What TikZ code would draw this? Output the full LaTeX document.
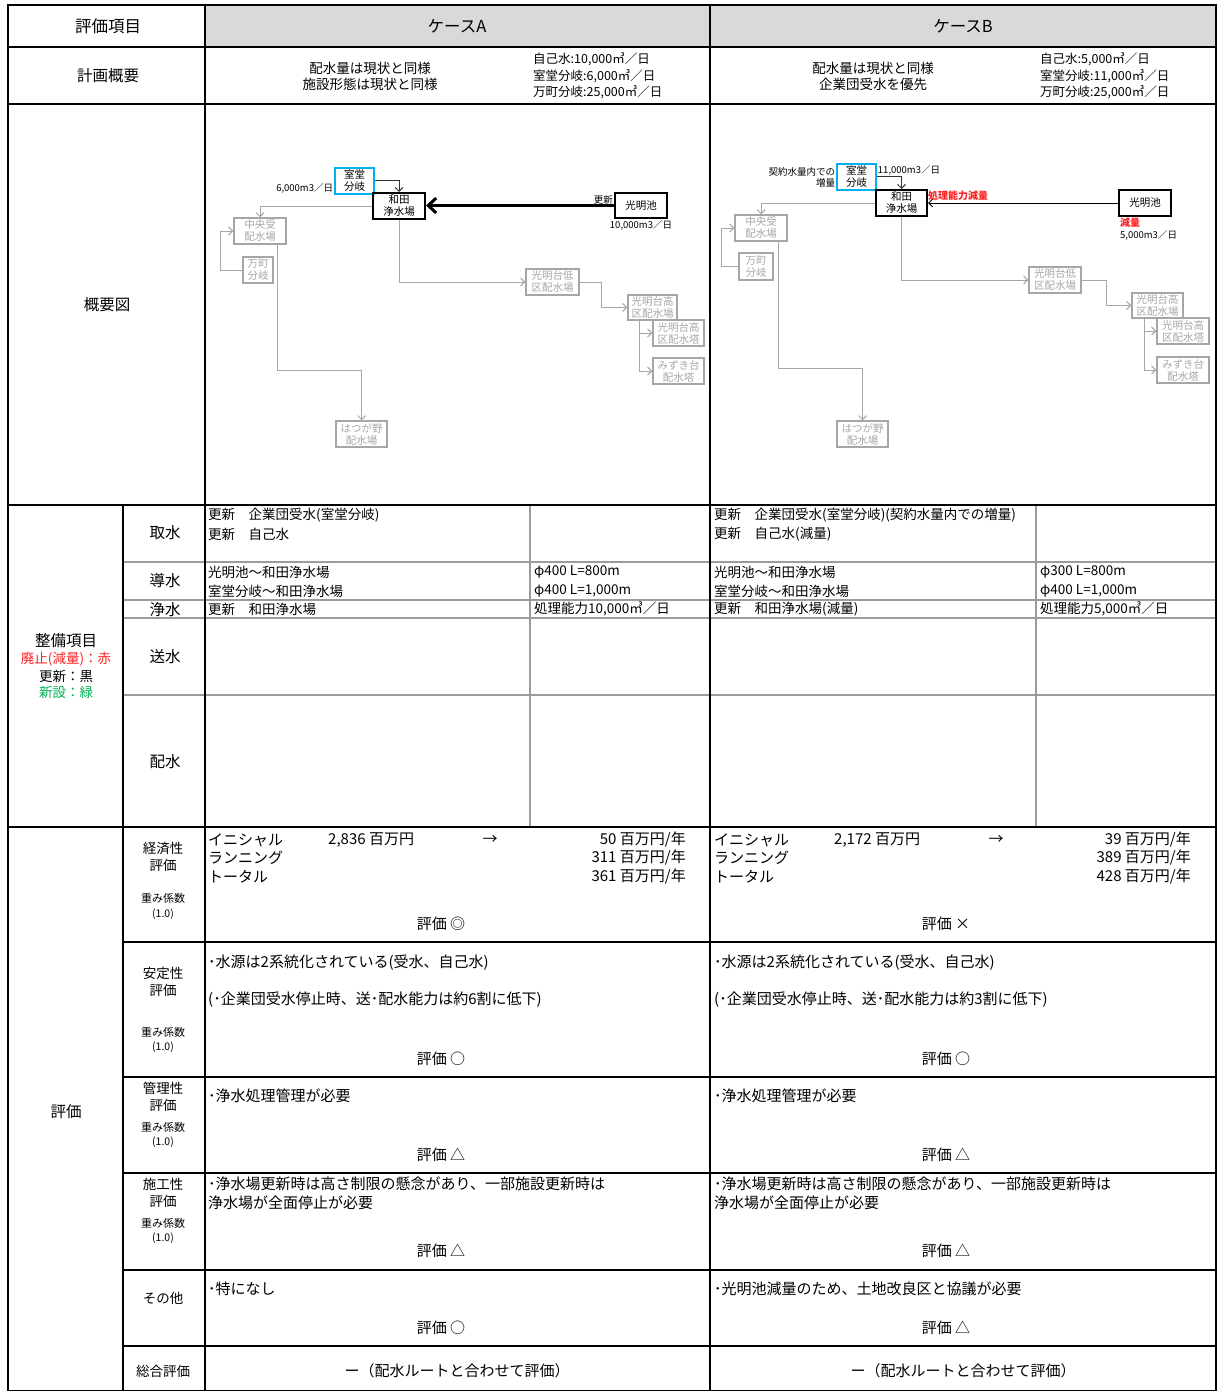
\documentclass[tikz,border=0pt]{standalone}
\usepackage{fontspec}
\setmainfont{Noto Sans CJK JP}
\usepackage{tikz}
\usetikzlibrary{calc,arrows.meta}
\definecolor{hdbg}{HTML}{D9D9D9}
\definecolor{gridg}{HTML}{9C9C9C}
\definecolor{net}{HTML}{A6A6A6}
\definecolor{muro}{HTML}{00B0F0}
\definecolor{alert}{HTML}{FF2020}
\definecolor{newc}{HTML}{00B050}
\tikzset{
  bord/.style={draw=black, line width=1.5pt},
  hsep/.style={draw=black, line width=2.2pt},
  subsep/.style={draw=gridg, line width=2.5pt},
  evsep/.style={draw=black, line width=1.5pt},
  hd/.style={font=\fontsize{16.5}{19}\selectfont},
  lab/.style={font=\fontsize{15.5}{18}\selectfont},
  labs/.style={font=\fontsize{13.5}{17}\selectfont, align=center},
  leg/.style={font=\fontsize{13.5}{16}\selectfont},
  wt/.style={font=\fontsize{11}{13}\selectfont},
  wn/.style={font=\fontsize{10.5}{12}\selectfont},
  plan/.style={font=\fontsize{13.5}{16}\selectfont, align=center},
  vol/.style={anchor=west, inner sep=0pt, font=\fontsize{12.5}{16.5}\selectfont, align=left},
  txt/.style={anchor=west, inner sep=0pt, font=\fontsize{13.5}{16}\selectfont},
  ev/.style={anchor=west, inner sep=0pt, font=\fontsize{15}{17}\selectfont},
  evr/.style={anchor=east, inner sep=0pt, font=\fontsize{15}{17}\selectfont},
  grade/.style={font=\fontsize{15}{17}\selectfont},
  box/.style={draw=black, line width=2pt, inner sep=0pt, align=center, font=\fontsize{10.5}{12}\selectfont},
  mbox/.style={draw=muro, line width=1.5pt, inner sep=0pt, align=center, font=\fontsize{10.5}{12}\selectfont},
  gbox/.style={draw=net, line width=1.5pt, text=net, inner sep=0pt, align=center, font=\fontsize{10.5}{12}\selectfont},
  gline/.style={draw=net, line width=1pt, -{Straight Barb[length=4pt,width=8pt]}},
  bline/.style={draw=black!80, line width=1pt, -{Straight Barb[length=4pt,width=8pt]}},
  sml/.style={font=\fontsize{9.5}{11}\selectfont, inner sep=1pt},
  redsml/.style={text=alert, inner sep=1pt, font=\fontsize{10}{11}\selectfont\bfseries},
}
\begin{document}
\begin{tikzpicture}[x=1pt, y=-1pt]
  \useasboundingbox (0,0) rectangle (1216,1391);
  \fill[hdbg] (205,5) rectangle (1216,47);
  % grid
  \draw[subsep] (530,505) -- (530,827);
  \draw[subsep] (1036,505) -- (1036,827);
  \draw[subsep] (123,562) -- (1216,562);
  \draw[subsep] (123,600) -- (1216,600);
  \draw[subsep] (123,618) -- (1216,618);
  \draw[subsep] (123,695) -- (1216,695);
  \draw[evsep] (123,942) -- (1216,942);
  \draw[evsep] (123,1077) -- (1216,1077);
  \draw[evsep] (123,1173) -- (1216,1173);
  \draw[hsep] (123,1270) -- (1216,1270);
  \draw[evsep] (123,1346) -- (1216,1346);
  \draw[hsep] (8,47) -- (1216,47);
  \draw[hsep] (8,104) -- (1216,104);
  \draw[hsep] (8,505) -- (1216,505);
  \draw[hsep] (8,827) -- (1216,827);
  \draw[hsep] (205,5) -- (205,1391);
  \draw[bord] (710,5) -- (710,1391);
  \draw[bord] (123,505) -- (123,1391);
  \draw[bord] (8,5) rectangle (1216,1391);

  \node[hd] (hitem) at (108,26) {評価項目};
  \node[hd] (hcaseA) at (457,26) {ケースA};
  \node[hd] (hcaseB) at (963,26) {ケースB};

  \node[lab] (hplan) at (108,76) {計画概要};
  \node[plan] (planA) at (370,76) {配水量は現状と同様\\施設形態は現状と同様};
  \node[vol] (volA) at (533,76) {自己水:10,000㎥／日\\室堂分岐:6,000㎥／日\\万町分岐:25,000㎥／日};
  \node[plan] (planB) at (873,76) {配水量は現状と同様\\企業団受水を優先};
  \node[vol] (volB) at (1040,76) {自己水:5,000㎥／日\\室堂分岐:11,000㎥／日\\万町分岐:25,000㎥／日};

  \node[lab] (hmap) at (107,305) {概要図};

  % case A map
  \node[mbox, minimum width=39, minimum height=26] (muroA) at (354.5,181) {室堂\\分岐};
  \node[box, minimum width=52, minimum height=26] (wadaA) at (399,206) {和田\\浄水場};
  \node[box, minimum width=52, minimum height=25] (koA) at (641,205.5) {光明池};
  \node[gbox, minimum width=52, minimum height=26] (chuoA) at (260,231) {中央受\\配水場};
  \node[gbox, minimum width=30, minimum height=26] (manA) at (258,270) {万町\\分岐};
  \node[gbox, minimum width=51, minimum height=26] (hatsuA) at (361.5,434) {はつが野\\配水場};
  \node[gbox, minimum width=53, minimum height=26] (kolA) at (552.5,282) {光明台低\\区配水場};
  \node[gbox, minimum width=49, minimum height=25] (kohA) at (652.5,307.5) {光明台高\\区配水場};
  \node[gbox, minimum width=51, minimum height=26] (towA) at (678.5,333) {光明台高\\区配水塔};
  \node[gbox, minimum width=51, minimum height=26] (mizA) at (678.5,371) {みずき台\\配水塔};
  \draw[bline] (muroA.east) -| (wadaA.north);
  \draw[line width=3pt, -{Straight Barb[length=8pt,width=15pt]}] (koA.west) -- (koA.west -| wadaA.east);
  \draw[gline] (wadaA.west) -| (chuoA.north);
  \draw[gline] (manA.west) -- ++(-22,0) |- (chuoA.west);
  \draw[gline] (277,0 |- chuoA.south) |- (hatsuA.north |- 0,370) -- (hatsuA.north);
  \draw[gline] (wadaA.south) |- (kolA.west);
  \draw[gline] (kolA.east) -- (601,0 |- kolA.east) |- (kohA.west);
  \draw[gline] (639,0 |- kohA.south) |- (towA.west);
  \draw[gline] (639,0 |- kohA.south) |- (mizA.west);
  \node[sml, anchor=east] (qA) at (muroA.west |- 0,188) {6,000m3／日};
  \node[sml, anchor=south east] (updA) at (koA.west) {更新};
  \node[sml, anchor=north] (kqA) at (koA.south) {10,000m3／日};

  % case B map
  \node[mbox, minimum width=39, minimum height=26] (muroB) at (856.5,177) {室堂\\分岐};
  \node[box, minimum width=51, minimum height=26] (wadaB) at (901.5,203) {和田\\浄水場};
  \node[box, minimum width=52, minimum height=26] (koB) at (1145,203) {光明池};
  \node[gbox, minimum width=52, minimum height=26] (chuoB) at (761,228) {中央受\\配水場};
  \node[gbox, minimum width=34, minimum height=27] (manB) at (756,266.5) {万町\\分岐};
  \node[gbox, minimum width=51, minimum height=26] (hatsuB) at (862.5,434) {はつが野\\配水場};
  \node[gbox, minimum width=52, minimum height=26] (kolB) at (1055,280) {光明台低\\区配水場};
  \node[gbox, minimum width=51, minimum height=25] (kohB) at (1157.5,305.5) {光明台高\\区配水場};
  \node[gbox, minimum width=52, minimum height=26] (towB) at (1183,331) {光明台高\\区配水塔};
  \node[gbox, minimum width=52, minimum height=26] (mizB) at (1183,370) {みずき台\\配水塔};
  \draw[bline] (muroB.east) -| (wadaB.north);
  \draw[bline, draw=black] (koB.west) -- (koB.west -| wadaB.east);
  \draw[gline] (wadaB.west) -| (chuoB.north);
  \draw[gline] (manB.west) -- ++(-17,0) |- (chuoB.west);
  \draw[gline] (778,0 |- chuoB.south) |- (hatsuB.north |- 0,368) -- (hatsuB.north);
  \draw[gline] (wadaB.south) |- (kolB.west);
  \draw[gline] (kolB.east) -- (1106,0 |- kolB.east) |- (kohB.west);
  \draw[gline] (1144,0 |- kohB.south) |- (towB.west);
  \draw[gline] (1144,0 |- kohB.south) |- (mizB.west);
  \node[sml, anchor=east, align=right] (zoB) at (muroB.west) {契約水量内での\\増量};
  \node[sml, anchor=south west] (qB) at (muroB.east) {11,000m3／日};
  \node[redsml, anchor=south west] (genB) at (927,202) {処理能力減量};
  \node[redsml, anchor=north west] (gB) at (1119,217) {減量};
  \node[sml, anchor=north west] (kqB) at (1119,229) {5,000m3／日};

  % seibi
  \node[lab] (hseibi) at (66,641) {整備項目};
  \node[leg, text=alert] (legR) at (66,659) {廃止(減量)：赤};
  \node[leg] (legK) at (66,676) {更新：黒};
  \node[leg, text=newc] (legG) at (66,692) {新設：緑};
  \node[lab] (hsyu) at (165,533) {取水};
  \node[lab] (hdou) at (165,581) {導水};
  \node[lab] (hjou) at (165,610) {浄水};
  \node[lab] (hsou) at (165,657) {送水};
  \node[lab] (hhai) at (165,762) {配水};
  \node[txt] (syuA1) at (208,515) {更新　企業団受水(室堂分岐)};
  \node[txt] (syuA2) at (208,534) {更新　自己水};
  \node[txt] (douA1) at (208,572) {光明池～和田浄水場};
  \node[txt] (douA2) at (208,591) {室堂分岐～和田浄水場};
  \node[txt] (douA3) at (534,572) {φ400 L=800m};
  \node[txt] (douA4) at (534,591) {φ400 L=1,000m};
  \node[txt] (jouA1) at (208,609) {更新　和田浄水場};
  \node[txt] (jouA2) at (534,609) {処理能力10,000㎥／日};
  \node[txt] (syuB1) at (714,515) {更新　企業団受水(室堂分岐)(契約水量内での増量)};
  \node[txt] (syuB2) at (714,534) {更新　自己水(減量)};
  \node[txt] (douB1) at (714,572) {光明池～和田浄水場};
  \node[txt] (douB2) at (714,591) {室堂分岐～和田浄水場};
  \node[txt] (douB3) at (1040,572) {φ300 L=800m};
  \node[txt] (douB4) at (1040,591) {φ400 L=1,000m};
  \node[txt] (jouB1) at (714,609) {更新　和田浄水場(減量)};
  \node[txt] (jouB2) at (1040,609) {処理能力5,000㎥／日};

  % hyoka
  \node[lab] (hhyoka) at (66,1112) {評価};
  \node[labs] (hkei) at (163,856.5) {経済性\\評価};
  \node[wt] (hkeiw) at (163,898) {重み係数};
  \node[wn] (hkeic) at (163,914) {(1.0)};
  \node[labs] (hant) at (163,981.5) {安定性\\評価};
  \node[wt] (hantw) at (163,1032) {重み係数};
  \node[wn] (hantc) at (163,1047) {(1.0)};
  \node[labs] (hkan) at (163,1096.5) {管理性\\評価};
  \node[wt] (hkanw) at (163,1127) {重み係数};
  \node[wn] (hkanc) at (163,1142) {(1.0)};
  \node[labs] (hsek) at (163,1192.5) {施工性\\評価};
  \node[wt] (hsekw) at (163,1223) {重み係数};
  \node[wn] (hsekc) at (163,1238) {(1.0)};
  \node[labs] (hsono) at (163,1298) {その他};
  \node[labs] (hsogo) at (163,1371) {総合評価};

  \node[ev] (iniA) at (208,840) {イニシャル};
  \node[ev] (iniAv) at (328,840) {2,836 百万円};
  \node[grade] (arA) at (490,840) {→};
  \node[evr] (iniAy) at (686,840) {50 百万円/年};
  \node[ev] (runA) at (208,858) {ランニング};
  \node[evr] (runAy) at (686,858) {311 百万円/年};
  \node[ev] (totA) at (208,877) {トータル};
  \node[evr] (totAy) at (686,877) {361 百万円/年};
  \node[grade] (gkA) at (441,924) {評価 ◎};
  \node[ev] (antA1) at (208,963) {･水源は2系統化されている(受水、自己水)};
  \node[ev] (antA2) at (208,1000) {(･企業団受水停止時、送･配水能力は約6割に低下)};
  \node[grade] (gaA) at (441,1059) {評価 ○};
  \node[ev] (kanA) at (208,1096) {･浄水処理管理が必要};
  \node[grade] (gmA) at (441,1155) {評価 △};
  \node[ev] (sekA1) at (208,1184) {･浄水場更新時は高さ制限の懸念があり、一部施設更新時は};
  \node[ev] (sekA2) at (208,1203) {浄水場が全面停止が必要};
  \node[grade] (gsA) at (441,1251) {評価 △};
  \node[ev] (sonA) at (208,1289) {･特になし};
  \node[grade] (goA) at (441,1328) {評価 ○};
  \node[grade] (sogA) at (457,1371) {ー（配水ルートと合わせて評価）};

  \node[ev] (iniB) at (714,840) {イニシャル};
  \node[ev] (iniBv) at (834,840) {2,172 百万円};
  \node[grade] (arB) at (996,840) {→};
  \node[evr] (iniBy) at (1191,840) {39 百万円/年};
  \node[ev] (runB) at (714,858) {ランニング};
  \node[evr] (runBy) at (1191,858) {389 百万円/年};
  \node[ev] (totB) at (714,877) {トータル};
  \node[evr] (totBy) at (1191,877) {428 百万円/年};
  \node[grade] (gkB) at (946,924) {評価 ×};
  \node[ev] (antB1) at (714,963) {･水源は2系統化されている(受水、自己水)};
  \node[ev] (antB2) at (714,1000) {(･企業団受水停止時、送･配水能力は約3割に低下)};
  \node[grade] (gaB) at (946,1059) {評価 ○};
  \node[ev] (kanB) at (714,1096) {･浄水処理管理が必要};
  \node[grade] (gmB) at (946,1155) {評価 △};
  \node[ev] (sekB1) at (714,1184) {･浄水場更新時は高さ制限の懸念があり、一部施設更新時は};
  \node[ev] (sekB2) at (714,1203) {浄水場が全面停止が必要};
  \node[grade] (gsB) at (946,1251) {評価 △};
  \node[ev] (sonB) at (714,1289) {･光明池減量のため、土地改良区と協議が必要};
  \node[grade] (goB) at (946,1328) {評価 △};
  \node[grade] (sogB) at (963,1371) {ー（配水ルートと合わせて評価）};
\end{tikzpicture}
\end{document}
